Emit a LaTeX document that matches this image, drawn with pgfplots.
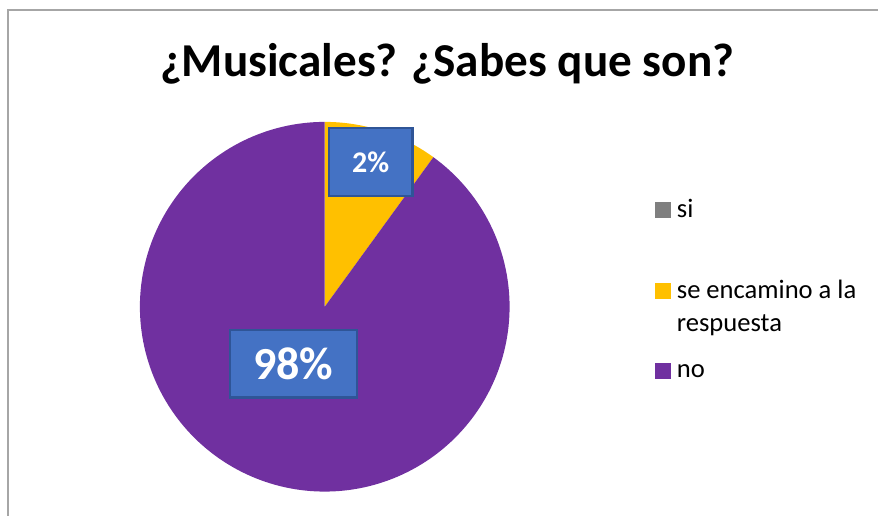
\documentclass[border=0pt]{standalone}
\usepackage{pgfplots}
\pgfplotsset{compat=1.18}
\usepackage{fontspec}
\setmainfont{Carlito}

\definecolor{pieno}{HTML}{7030A0}
\definecolor{piese}{HTML}{FFC000}
\definecolor{piesi}{HTML}{7F7F7F}
\definecolor{lblfill}{HTML}{4472C4}
\definecolor{lbldraw}{HTML}{2F5597}
\definecolor{frame}{HTML}{A6A6A6}

% canvas in pixels of the reference, 1px = 0.5pt, y upwards
\begin{document}
\begin{tikzpicture}
\begin{axis}[
    scale only axis,
    width=439.5pt, height=258pt,
    xmin=0, xmax=879, ymin=0, ymax=516,
    hide axis,
    clip=false,
]
% keep the whole canvas as the bounding box
\path (axis cs:0,0) rectangle (axis cs:879,516);
% chart frame (cut at right and bottom)
\draw[frame, line width=0.7pt] (axis cs:8,0) -- (axis cs:8,506) -- (axis cs:879,506);

% pie: centre (325,209), radius 185; values in percent, clockwise from top
% si = 0, se encamino a la respuesta = 10, no = 90
\addplot[fill=piese, draw=none, domain=0:10, samples=30, variable=\t]
    ({325+185*sin(3.6*\t)}, {209+185*cos(3.6*\t)}) -- (axis cs:325,209) -- cycle;
\addplot[fill=pieno, draw=none, domain=10:100, samples=200, variable=\t]
    ({325+185*sin(3.6*\t)}, {209+185*cos(3.6*\t)}) -- (axis cs:325,209) -- cycle;

% data labels
\node[fill=lblfill, draw=lbldraw, line width=1.2pt, minimum width=42pt, minimum height=34pt,
      inner sep=0pt, text=white, font=\bfseries\fontsize{15}{18}\selectfont]
      at (axis cs:371,354) {2\%};
\node[fill=lblfill, draw=lbldraw, line width=1.2pt, minimum width=63.5pt, minimum height=34pt,
      inner sep=0pt, text=white, font=\bfseries\fontsize{23}{27}\selectfont]
      at (axis cs:293.5,152) {98\%};

% title
\node[anchor=base, font=\bfseries\fontsize{23.6}{28}\selectfont] at (axis cs:447.5,439)
    {¿Musicales? ¿Sabes que son?};

% legend
\addplot[only marks, mark=square*, mark size=3.75pt, mark options={fill=piesi, draw=piesi, line width=0pt}]
    coordinates {(663.5,305.5)};
\addplot[only marks, mark=square*, mark size=3.75pt, mark options={fill=piese, draw=piese, line width=0pt}]
    coordinates {(663.5,224.5)};
\addplot[only marks, mark=square*, mark size=3.75pt, mark options={fill=pieno, draw=pieno, line width=0pt}]
    coordinates {(663.5,144.5)};
\begin{scope}[every node/.style={anchor=base west, inner sep=0pt, font=\fontsize{13.3}{16}\selectfont}]
\node at (axis cs:677,298) {si};
\node at (axis cs:677,217) {se encamino a la};
\node at (axis cs:677,184) {respuesta};
\node at (axis cs:677,138) {no};
\end{scope}
\end{axis}
\end{tikzpicture}
\end{document}
